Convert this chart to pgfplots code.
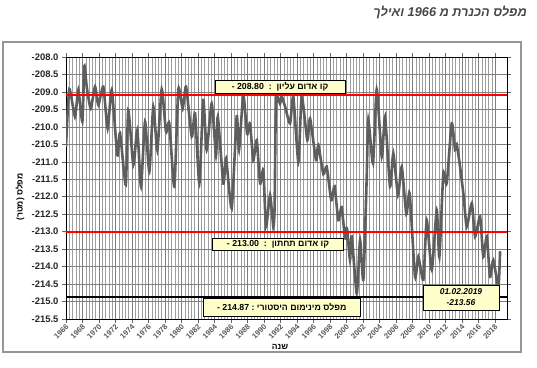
\documentclass[border=0pt]{standalone}
\usepackage{pgfplots}
\pgfplotsset{compat=1.18}
\usepackage{pgfplotstable}
\usepackage{fontspec}
\setmainfont{Liberation Sans}
\newfontfamily\heb[Script=Hebrew]{Liberation Sans}
\TeXXeTstate=1
\definecolor{curve}{HTML}{5E5E5E}
\definecolor{boxfill}{HTML}{FFFFCC}
\definecolor{framegray}{HTML}{959595}
\pgfplotstableread{
yr lvl
1966.00 -210.57
1966.40 -208.92
1967.09 -209.71
1967.49 -208.94
1967.98 -209.85
1968.22 -208.26
1968.51 -208.85
1968.99 -209.47
1969.52 -208.85
1969.92 -209.37
1970.52 -208.85
1971.05 -210.04
1971.54 -208.94
1972.22 -210.81
1972.55 -210.18
1973.24 -211.66
1973.55 -209.52
1974.16 -211.09
1974.64 -210.09
1975.09 -211.71
1975.58 -209.85
1976.10 -211.28
1976.58 -209.42
1977.07 -210.66
1977.60 -208.92
1978.12 -210.14
1978.52 -209.90
1979.13 -211.71
1979.61 -208.92
1980.14 -209.47
1980.55 -208.85
1981.24 -210.28
1981.64 -209.61
1982.16 -211.62
1982.64 -209.23
1983.05 -210.66
1983.66 -209.33
1984.18 -210.81
1984.40 -209.71
1985.07 -211.62
1985.40 -210.90
1986.08 -212.33
1986.69 -209.70
1986.97 -210.66
1987.49 -209.09
1987.95 -210.20
1988.30 -209.90
1988.70 -210.95
1989.12 -210.38
1989.52 -211.62
1989.92 -211.24
1990.24 -212.86
1990.73 -211.95
1991.13 -212.86
1991.28 -212.30
1991.40 -209.90
1991.54 -209.09
1991.94 -209.33
1992.15 -209.13
1992.55 -209.42
1993.15 -209.90
1993.55 -209.13
1994.16 -211.00
1994.57 -209.13
1995.25 -210.38
1995.58 -209.76
1996.30 -210.95
1996.58 -210.52
1997.19 -211.35
1997.60 -211.14
1998.15 -212.10
1998.55 -211.70
1999.00 -212.67
1999.40 -212.30
1999.82 -213.19
2000.05 -212.90
2000.42 -213.81
2000.63 -213.14
2001.24 -214.77
2001.64 -213.24
2002.04 -214.38
2002.45 -211.40
2002.64 -209.80
2003.21 -211.04
2003.66 -208.92
2004.27 -210.85
2004.67 -209.71
2005.27 -211.71
2005.67 -210.76
2006.24 -211.95
2006.69 -211.14
2007.25 -212.50
2007.65 -211.90
2008.30 -214.29
2008.70 -213.72
2009.31 -214.38
2009.72 -212.67
2010.33 -214.10
2010.93 -212.38
2011.25 -213.72
2011.73 -211.33
2012.14 -211.62
2012.75 -209.90
2013.15 -210.66
2013.35 -210.50
2013.76 -211.14
2014.20 -212.00
2014.57 -212.86
2015.18 -212.19
2015.58 -213.14
2016.18 -212.57
2016.58 -213.72
2017.00 -213.14
2017.39 -214.29
2017.79 -213.81
2018.40 -214.58
2018.61 -213.56
}\kinneret
\begin{document}
\begin{tikzpicture}[x=1bp,y=1bp]
\useasboundingbox (0,0) rectangle (537,367);
\draw[framegray, line width=1.2bp] (3,15) rectangle (521,325);
\node[anchor=east, inner sep=0pt, text=black!72, font=\heb\bfseries\itshape\fontsize{12.8}{14}\selectfont] at (527,354) {\beginR מפלס הכנרת מ 1966 ואילך\endR};
\node[rotate=90, inner sep=0pt, font=\heb\bfseries\fontsize{8.5}{10}\selectfont] at (20,170) {\beginR מפלס (מטר)\endR};
\node[inner sep=0pt, font=\heb\bfseries\fontsize{8.5}{10}\selectfont] at (280,20) {\beginR שנה\endR};
\begin{axis}[
  at={(66bp,48bp)}, anchor=south west,
  scale only axis, width=441bp, height=262bp,
  xmin=1966, xmax=2019.45, ymin=-215.5, ymax=-208,
  ytick={-215.5,-215,...,-208},
  xtick={1966,1968,...,2018},
  minor x tick num=4,
  grid=both,
  major grid style={draw=black!50, line width=0.6bp},
  minor grid style={draw=black!38, line width=0.5bp},
  axis line style={black, line width=0.8bp},
  tick align=outside,
  major tick length=4bp, minor tick length=0bp,
  tick style={black!60, line width=0.5bp},
  yticklabel style={font=\bfseries\fontsize{9.5}{11}\selectfont, text=black!85,
    /pgf/number format/fixed, /pgf/number format/fixed zerofill,
    /pgf/number format/precision=1, /pgf/number format/assume math mode=true},
  xticklabel style={font=\bfseries\fontsize{7.6}{9}\selectfont, text=black!65, rotate=45, anchor=east, inner sep=0pt, xshift=-1bp, yshift=-3bp,
    /pgf/number format/1000 sep={}, /pgf/number format/assume math mode=true},
  clip=true,
]
\addplot[curve, line width=2.6bp, smooth, tension=0.35] table[x=yr, y=lvl] {\kinneret};
\addplot[red, line width=2bp] coordinates {(1966,-209.1) (2019.45,-209.1)};
\addplot[red, line width=2bp] coordinates {(1966,-213.0) (2019.45,-213.0)};
\addplot[black, line width=2bp] coordinates {(1966,-214.87) (2019.45,-214.87)};
\end{axis}
\tikzset{bx/.style={draw=black, line width=0.8bp, fill=boxfill, inner sep=0pt, font=\bfseries\fontsize{8.8}{10}\selectfont}}
\node[bx, minimum width=130bp, minimum height=13bp] at (280,280.3) {- 208.80\ \ :\ \ {\heb\beginR קו אדום עליון\endR}};
\node[bx, minimum width=131bp, minimum height=12bp] at (278,123) {- 213.00\ \ :\ \ {\heb\beginR קו אדום תחתון\endR}};
\node[bx, minimum width=157bp, minimum height=18bp] at (281.7,59.5) {- 214.87 :\ {\heb\beginR מפלס מינימום היסטורי\endR}};
\node[bx, minimum width=76bp, minimum height=25bp, align=center, font=\bfseries\itshape\fontsize{8.5}{11}\selectfont] at (461,69.5) {01.02.2019\\-213.56};
\end{tikzpicture}
\end{document}
